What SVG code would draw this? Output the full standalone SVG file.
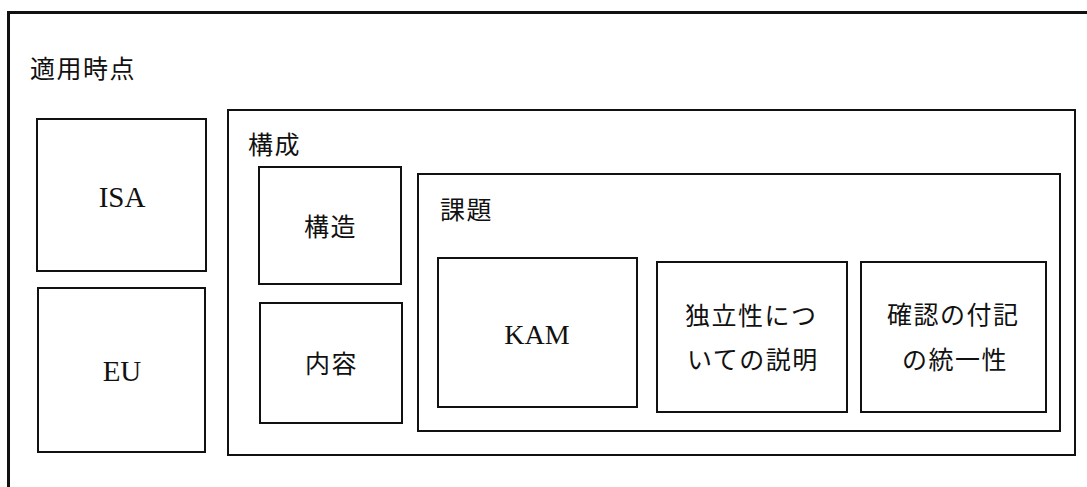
<svg xmlns="http://www.w3.org/2000/svg" width="1087" height="487" viewBox="0 0 1087 487">
<style>
.box{fill:none;stroke:#111;stroke-width:2}
.frame{fill:none;stroke:#111;stroke-width:3}
.jp{font-family:"Noto Sans CJK JP","Noto Sans CJK SC",sans-serif;font-size:25px;letter-spacing:1.5px;fill:#111}
.en{font-family:"Liberation Serif",serif;fill:#111}
</style>
<rect width="1087" height="487" fill="#fff"/>
<g id="frame">
<path class="frame" d="M8.5,489 V12.5 H1090"/>
<text class="jp" x="30" y="78">適用時点</text>
</g>
<g id="isa"><rect class="box" x="37" y="119" width="169" height="152"/><text class="en" x="122" y="207" font-size="29" text-anchor="middle">ISA</text></g>
<g id="eu"><rect class="box" x="38" y="288" width="167" height="164"/><text class="en" x="122" y="381" font-size="29" text-anchor="middle">EU</text></g>
<g id="kousei"><rect class="box" x="228" y="110" width="847" height="345"/><text class="jp" x="248" y="154">構成</text></g>
<g id="kouzou"><rect class="box" x="259" y="167" width="142" height="117"/><text class="jp" x="304" y="236">構造</text></g>
<g id="naiyou"><rect class="box" x="260" y="303" width="142" height="120"/><text class="jp" x="305" y="373">内容</text></g>
<g id="kadai"><rect class="box" x="418" y="174" width="642" height="257"/><text class="jp" x="440" y="219">課題</text></g>
<g id="kam"><rect class="box" x="438" y="258" width="199" height="149"/><text class="en" x="537" y="344" font-size="28" text-anchor="middle">KAM</text></g>
<g id="dokuritsu"><rect class="box" x="657" y="262" width="190" height="150"/><text class="jp" x="685" y="325">独立性につ</text><text class="jp" x="687" y="369">いての説明</text></g>
<g id="kakunin"><rect class="box" x="861" y="262" width="185" height="150"/><text class="jp" x="887" y="324">確認の付記</text><text class="jp" x="902" y="369">の統一性</text></g>
<g id="connectors"/>
</svg>
